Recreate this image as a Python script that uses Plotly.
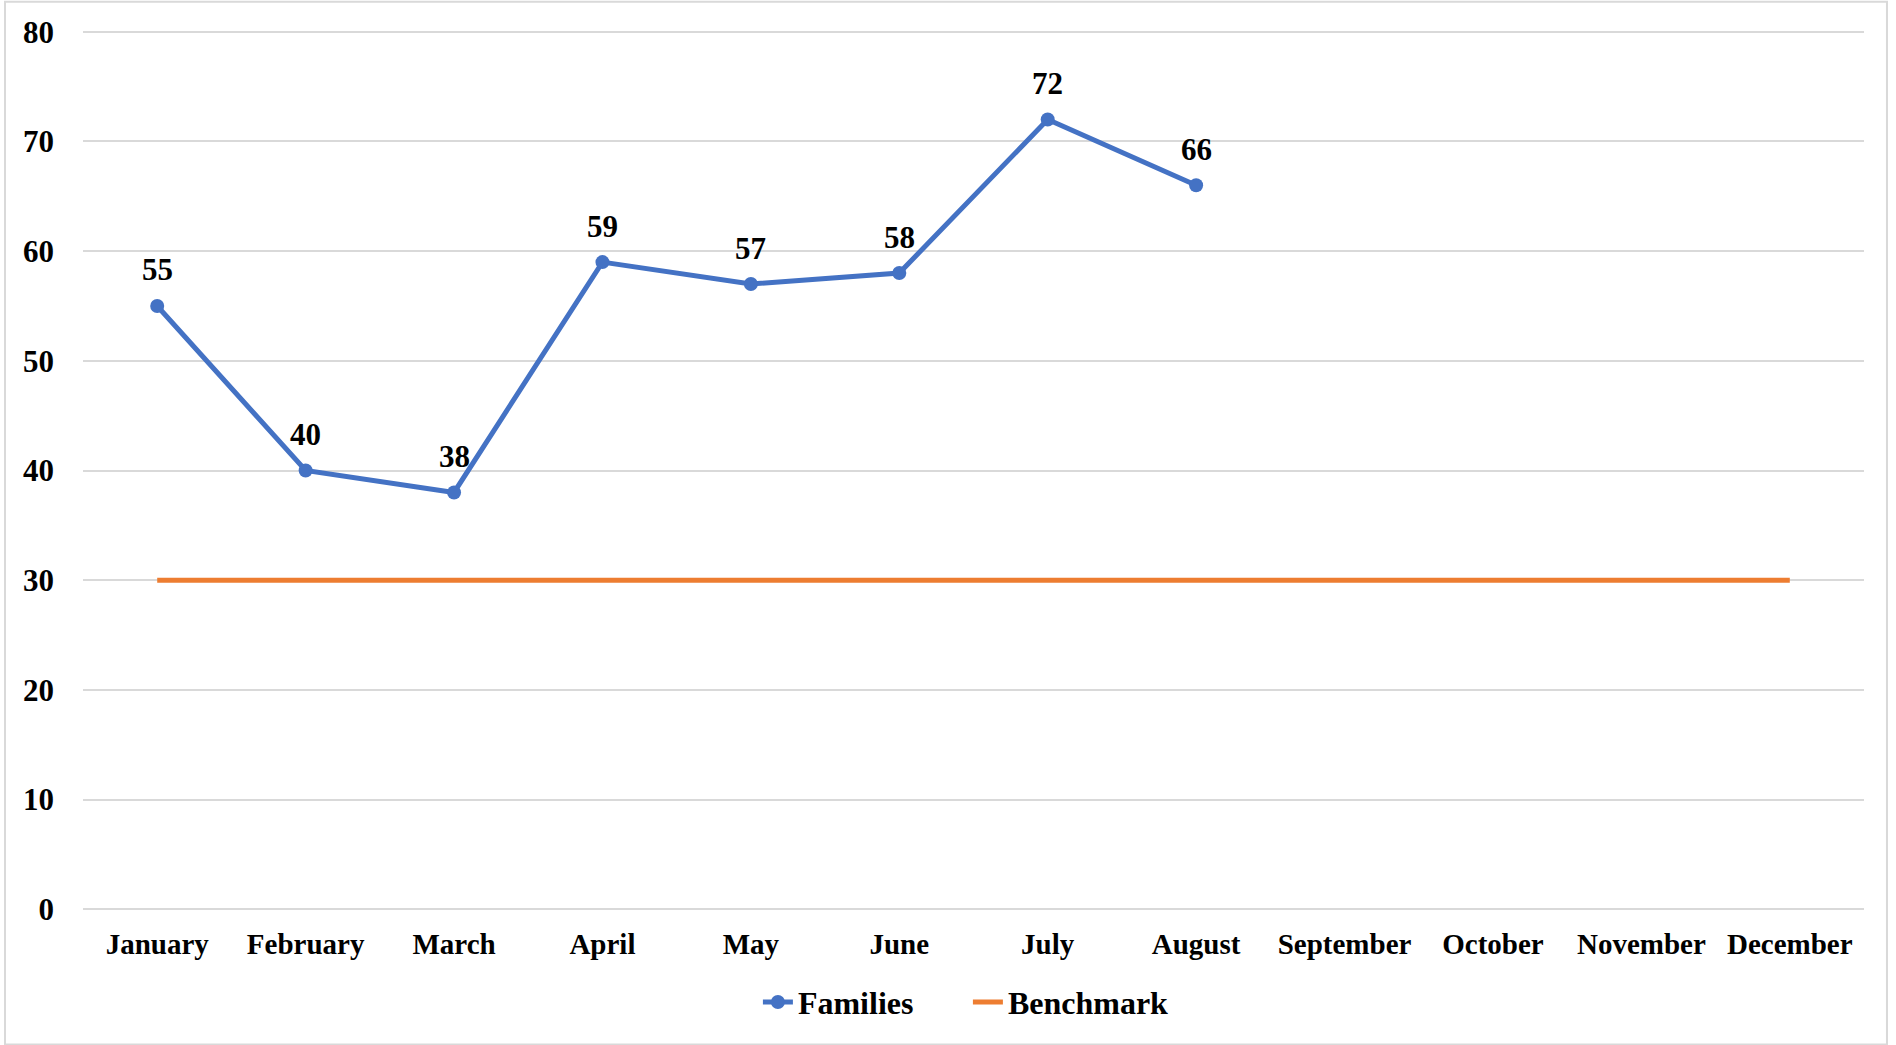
import plotly.graph_objects as go

months = ["January", "February", "March", "April", "May", "June", "July",
          "August", "September", "October", "November", "December"]
families = [55, 40, 38, 59, 57, 58, 72, 66]
benchmark = [30] * 12
y_ticks = [0, 10, 20, 30, 40, 50, 60, 70, 80]

FONT = "Liberation Serif"

fig = go.Figure()
fig.add_trace(go.Scatter(
    x=months[:len(families)], y=families, name="<b>Families</b>",
    mode="lines+markers",
    line=dict(color="#4472C4", width=5),
    marker=dict(size=14, color="#4472C4"),
))
fig.add_trace(go.Scatter(
    x=months, y=benchmark, name="<b>Benchmark</b>",
    mode="lines",
    line=dict(color="#ED7D31", width=5),
))

for m, v in zip(months, families):
    fig.add_annotation(x=m, y=v, text=f"<b>{v}</b>", showarrow=False,
                       yshift=36, yanchor="middle",
                       font=dict(family=FONT, size=31, color="black"))

fig.update_layout(
    width=1896, height=1045,
    margin=dict(l=83, r=32, t=29, b=133),
    paper_bgcolor="white", plot_bgcolor="white",
    font=dict(family=FONT, color="black"),
    showlegend=True,
    legend=dict(orientation="h", xref="container", yref="container",
                x=0.5105, xanchor="center", y=0.041, yanchor="middle",
                font=dict(family=FONT, size=32, color="black"),
                entrywidth=165, entrywidthmode="pixels",
                tracegroupgap=0),
    xaxis=dict(type="category", categoryorder="array", categoryarray=months,
               range=[-0.5, 11.5], showgrid=False, zeroline=False,
               showline=False,
               tickvals=months, ticktext=[f"<b>{m}</b>" for m in months],
               tickfont=dict(family=FONT, size=29, color="black"),
               ticklabelstandoff=12),
    yaxis=dict(range=[-0.25, 80.25], tickvals=y_ticks,
               ticktext=[f"<b>{v}</b>" for v in y_ticks],
               showgrid=True, gridcolor="#D9D9D9", gridwidth=1.5,
               zeroline=True, zerolinecolor="#D9D9D9", zerolinewidth=1.5,
               showline=False,
               tickfont=dict(family=FONT, size=31, color="black"),
               ticklabelstandoff=28),
)

# outer chart border
fig.add_shape(type="rect", xref="paper", yref="paper",
              x0=-0.0438, x1=1.0129, y0=-0.150, y1=1.031,
              line=dict(color="#D9D9D9", width=2), layer="below")

fig.write_html("out.html", config={"displayModeBar": False},
               post_script="document.body.style.margin='0';document.body.style.overflow='hidden';")
